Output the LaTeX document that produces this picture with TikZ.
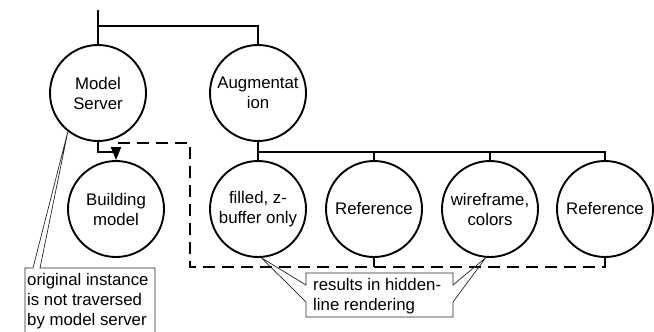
\documentclass[tikz,border=0pt]{standalone}
\usepackage{fontspec}
\setmainfont{Liberation Sans}
\usetikzlibrary{arrows.meta}
\begin{document}
\begin{tikzpicture}[x=1pt,y=-1pt,
  every node/.style={font=\fontsize{16.8}{20}\selectfont},
  proc/.style={draw,circle,line width=1.9pt,minimum size=96pt,inner sep=0pt,align=center},
  link/.style={line width=1.9pt},
  dsh/.style={line width=2pt,dash pattern=on 12pt off 7pt},
  callout/.style={draw=black!85,line width=0.7pt,line join=miter},
  note/.style={anchor=base west,inner sep=0pt}]
\useasboundingbox (0,0) rectangle (654,332);

% processes
\node[proc] (ms)   at (98,93)   {Model\\Server};
\node[proc] (aug)  at (258,93)  {Augmentat\\ion};
\node[proc] (bm)   at (116,209) {Building\\model};
\node[proc] (fz)   at (258,209) {filled, z-\\buffer only};
\node[proc] (ref1) at (374,209) {Reference};
\node[proc] (wf)   at (490,209) {wireframe,\\colors};
\node[proc] (ref2) at (605,209) {Reference};

% junction points
\coordinate (top)  at (98,10);
\coordinate (tj)   at (98,26);
\coordinate (bus)  at (258,152);
\coordinate (msj)  at (98,152);
\coordinate (dl)   at (190,267);
\coordinate (dt)   at (190,143);
\coordinate (da)   at (116,143);
\coordinate (armj) at (116,152);

% tree connectors
\draw[link] (top) -- (ms.north);
\draw[link] (tj) -| (aug.north);
\draw[line width=2.6pt] (aug.south) -- (bus);
\draw[link] (bus) -- (fz.north);
\draw[link] (bus) -| (ref1.north);
\draw[link] (bus) -| (wf.north);
\draw[link] (bus) -| (ref2.north);
\draw[link] (ms.south) -- (msj) -- (armj);

% dashed reference link back to the building model
\draw[dsh] (ref1.south) -- (ref1.south |- dl);
\draw[dsh,-{Triangle[length=13pt,width=10pt]}]
  (ref2.south) -- (ref2.south |- dl) -- (dl) -- (dt) -- (da) -- (bm.north);

% callout: original instance
\coordinate (t1) at (ms.232);
\draw[callout] (25,336) -- (25,268) -- (33,268) -- (t1) -- (40,268) -- (155,268) -- (155,336);
\node[note] (n1a) at (27,285) {original instance};
\node[note] (n1b) at (27,305) {is not traversed};
\node[note] (n1c) at (27,325) {by model server};

% callout: hidden-line rendering
\coordinate (t2) at (fz.-86);
\coordinate (t3) at (wf.-95);
\draw[callout] (306,285) -- (t2) -- (306,302) -- (306,317) -- (453,317) -- (453,302)
  -- (t3) -- (453,285) -- (453,273) -- (306,273) -- cycle;
\node[note] (n2a) at (313,290) {results in hidden-};
\node[note] (n2b) at (313,310) {line rendering};
\end{tikzpicture}
\end{document}
